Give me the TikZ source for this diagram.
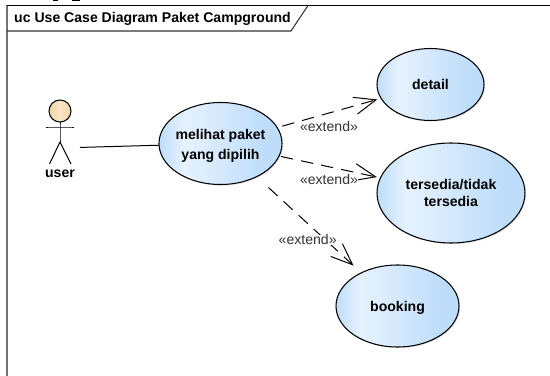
\documentclass[tikz,border=0pt]{standalone}
\usepackage{fontspec}
\setmainfont{Liberation Sans}
\usepackage{tikz-network}
\usetikzlibrary{arrows.meta,shapes.geometric,shadows}

\newcommand{\ucfont}{\fontsize{12}{16}\selectfont\bfseries}
\protected\def\uclines#1#2{\shortstack{#1\\[2.5pt]#2}}
\protected\def\uclow#1{\raisebox{0pt}[\dimexpr\height+4pt]{#1}}
\definecolor{ucblue}{HTML}{BEDDFA}
\definecolor{ucpale}{HTML}{E6F2FE}
\definecolor{headtan}{HTML}{F3D3A2}
\definecolor{headpale}{HTML}{FBE6C8}
\pgfdeclarehorizontalshading{ucshade}{100bp}{color(0bp)=(ucblue); color(25bp)=(ucblue); color(35bp)=(ucpale); color(68bp)=(ucblue); color(100bp)=(ucblue)}

\tikzset{
  usecase/.style={ellipse, shading=ucshade, inner sep=0pt, drop shadow={opacity=0.2, shadow xshift=1pt, shadow yshift=-1pt}},
  plaintext/.style={draw=none, fill=none, inner sep=0pt},
  extendline/.style={dash pattern=on 0.37cm off 0.245cm, -{Straight Barb[length=0.65cm,width=0.52cm]}},
  extendtext/.style={inner sep=0pt, fill=white, text=black!80, font=\fontsize{12}{14}\selectfont}
}

\begin{document}
\begin{tikzpicture}

\SetVertexStyle[LineWidth=0.9, LineColor=black, FillColor=ucblue, TextFont=\ucfont]
\SetEdgeStyle[Color=black, LineWidth=0.85]

\useasboundingbox (0,0) rectangle (16.5,11.28);

\draw[line width=1.4pt, black!55] (0.21,0) -- (0.21,11.115);
\draw[line width=1.2pt] (0.21,11.115) -- (16.5,11.115);
\draw[line width=0.9pt, black!80] (0.21,10.35) -- (8.73,10.35) -- (9.24,11.115);
\node[anchor=west, inner sep=0pt, font=\ucfont] (Frame_title) at (0.42,10.725) {uc Use Case Diagram Paket Campground};

\fill (1.6,11.235) rectangle (1.75,11.28);
\fill (2.17,11.235) rectangle (2.4,11.28);

\Vertex[x=1.8,y=7.95,size=0.66,NoLabel,style={ellipse, left color=headtan, right color=headtan, middle color=headpale}]{Act_head}
\coordinate (Act_armL) at (1.38,7.47);
\coordinate (Act_armR) at (2.22,7.47);
\coordinate (Act_hip) at (1.8,7.02);
\coordinate (Act_legL) at (1.485,6.36);
\coordinate (Act_legR) at (2.13,6.36);
\Edge[](Act_armL)(Act_armR)
\Edge[](Act_head)(Act_hip)
\Edge[](Act_hip)(Act_legL)
\Edge[](Act_hip)(Act_legR)
\Vertex[x=1.8,y=6.06,size=0.1,label=user,style={plaintext}]{Act_name}
\Vertex[x=1.8,y=6.84,size=1.2,NoLabel,style={draw=none, fill=none}]{Act_box}

\Vertex[x=6.615,y=6.975,size=0.1,label={\uclow{\uclines{melihat paket}{yang dipilih}}},style={usecase, minimum width=3.69cm, minimum height=2.46cm}]{Uc_melihat}
\Vertex[x=12.915,y=8.745,size=0.1,label=detail,style={usecase, minimum width=3.21cm, minimum height=2.16cm}]{Uc_detail}
\Vertex[x=13.53,y=5.49,size=0.1,label={\uclines{tersedia/tidak}{tersedia}},style={usecase, minimum width=4.44cm, minimum height=3cm}]{Uc_tersedia}
\Vertex[x=11.925,y=2.1,size=0.1,label={\uclow{booking}},style={usecase, minimum width=3.69cm, minimum height=2.46cm}]{Uc_booking}

\Edge[](Act_box)(Uc_melihat)
\Edge[Direct,style={extendline, shorten <=0.16cm, shorten >=0.12cm}](Uc_melihat)(Uc_detail)
\Edge[Direct,style={extendline, shorten <=0.06cm, shorten >=0.11cm}](Uc_melihat)(Uc_tersedia)
\Edge[Direct,style={extendline, shorten <=0.48cm, shorten >=0.32cm}](Uc_melihat)(Uc_booking)

\node[extendtext] (Lb_detail) at (9.87,7.48) {«extend»};
\node[extendtext] (Lb_tersedia) at (9.87,5.89) {«extend»};
\node[extendtext] (Lb_booking) at (9.23,4.09) {«extend»};

\end{tikzpicture}
\end{document}
